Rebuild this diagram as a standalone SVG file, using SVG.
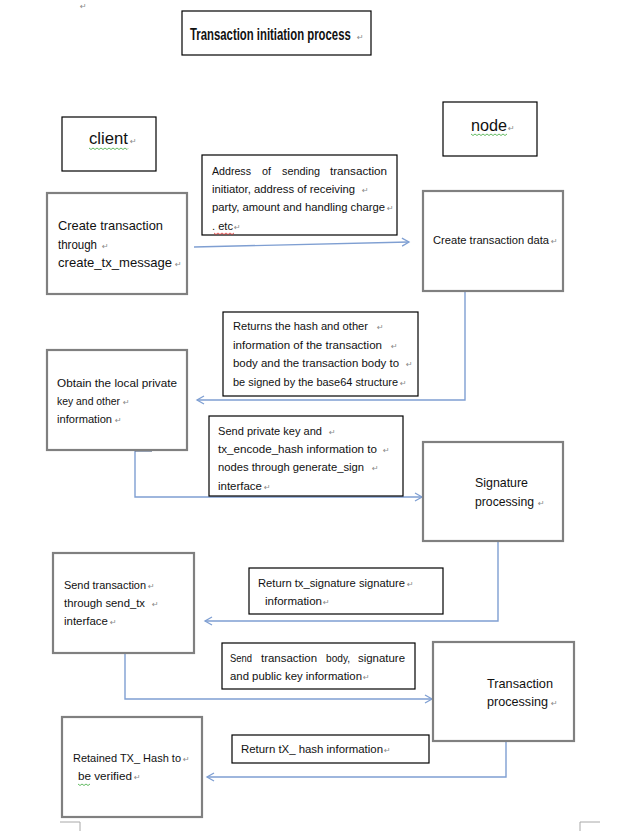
<svg xmlns="http://www.w3.org/2000/svg" width="642" height="831" viewBox="0 0 642 831">
  <style>
    .frame { fill: #fff; stroke: #000; stroke-width: 1.2; }
    .proc { fill: #fff; stroke: #808080; stroke-width: 2.2; }
    .wire { fill: none; stroke: #7f9fd2; stroke-width: 1.4; }
    .t { font-family: "Liberation Sans", Arial, sans-serif; fill: #111; }
    .lbl { font-size: 11px; }
    .box { font-size: 13px; }
    .pm { font-family: "DejaVu Sans", sans-serif; font-size: 8px; fill: #888; font-weight: normal; }
    .wavy-g { fill: none; stroke: #3caa3c; stroke-width: 0.8; }
    .wavy-r { fill: none; stroke: #e03030; stroke-width: 0.8; }
    .crop { fill: none; stroke: #a8a8a8; stroke-width: 1; }
  </style>
  <defs>
    <marker id="arrow" markerWidth="10" markerHeight="10" refX="8" refY="5" orient="auto" markerUnits="userSpaceOnUse">
      <path d="M1,1 L8,5 L1,9" fill="none" stroke="#7f9fd2" stroke-width="1.3"/>
    </marker>
  </defs>

  <rect width="642" height="831" fill="#fff"/>

  <!-- page marks -->
  <text class="pm" x="80" y="9">↵</text>
  <path class="crop" d="M60,822 H80 V831"/>
  <path class="crop" d="M600,822 H580 V831"/>

  <!-- title: bold face narrowed horizontally to a condensed look -->
  <g id="title">
    <rect class="frame" x="182" y="11" width="189" height="44"/>
    <text class="t" transform="translate(190,40) scale(0.71,1)" font-size="16" font-weight="bold">Transaction initiation process</text>
    <text class="pm" x="357" y="40">↵</text>
  </g>

  <!-- lane headers -->
  <g id="client">
    <rect class="frame" x="62" y="117" width="94" height="54"/>
    <text class="t" x="89" y="144" font-size="16" textLength="39" lengthAdjust="spacingAndGlyphs">client</text>
    <text class="pm" x="130" y="144">↵</text>
    <path class="wavy-g" d="M89,148 l2,1.5 l2,-1.5 l2,1.5 l2,-1.5 l2,1.5 l2,-1.5 l2,1.5 l2,-1.5 l2,1.5 l2,-1.5 l2,1.5 l2,-1.5 l2,1.5 l2,-1.5 l2,1.5 l2,-1.5 l2,1.5 l2,-1.5 l2,1.5 l1,-1"/>
  </g>
  <g id="node">
    <rect class="frame" x="443" y="102" width="94" height="54"/>
    <text class="t" x="471" y="131" font-size="16" textLength="36" lengthAdjust="spacingAndGlyphs">node</text>
    <text class="pm" x="508" y="131">↵</text>
    <path class="wavy-g" d="M471,134 l2,1.5 l2,-1.5 l2,1.5 l2,-1.5 l2,1.5 l2,-1.5 l2,1.5 l2,-1.5 l2,1.5 l2,-1.5 l2,1.5 l2,-1.5 l2,1.5 l2,-1.5 l2,1.5 l2,-1.5 l2,1.5 l2,-1.5"/>
  </g>

  <!-- connectors -->
  <g id="connectors">
    <path class="wire" d="M194,247 L409,242" marker-end="url(#arrow)"/>
    <path class="wire" d="M465,291 V400 H197" marker-end="url(#arrow)"/>
    <path class="wire" d="M135,451 V497 H422" marker-end="url(#arrow)"/>
    <path d="M135,451 H152" fill="none" stroke="#6a7a96" stroke-width="1.4"/>
    <path class="wire" d="M498,541 V621 H205" marker-end="url(#arrow)"/>
    <path class="wire" d="M125,653 V699 H432" marker-end="url(#arrow)"/>
    <path class="wire" d="M506,741 V777 H207" marker-end="url(#arrow)"/>
  </g>

  <!-- client side steps -->
  <g id="create-tx">
    <rect class="proc" x="47" y="193" width="140" height="101"/>
    <text class="t box" x="58" y="230" textLength="105" lengthAdjust="spacingAndGlyphs">Create transaction</text>
    <text class="t box" x="58" y="249" textLength="39" lengthAdjust="spacingAndGlyphs">through</text>
    <text class="pm" x="102" y="249">↵</text>
    <text class="t box" x="58" y="267" textLength="114" lengthAdjust="spacingAndGlyphs">create_tx_message</text>
    <text class="pm" x="175" y="267">↵</text>
  </g>

  <g id="obtain-key">
    <rect class="proc" x="47" y="350" width="140" height="100"/>
    <text class="t lbl" x="57" y="387" textLength="120" lengthAdjust="spacingAndGlyphs">Obtain the local private</text>
    <text class="t lbl" x="57" y="405" textLength="63" lengthAdjust="spacingAndGlyphs">key and other</text>
    <text class="pm" x="123" y="405">↵</text>
    <text class="t lbl" x="57" y="423" textLength="55" lengthAdjust="spacingAndGlyphs">information</text>
    <text class="pm" x="115" y="423">↵</text>
  </g>

  <g id="send-tx">
    <rect class="proc" x="53" y="553" width="141" height="100"/>
    <text class="t lbl" x="64" y="589" textLength="82" lengthAdjust="spacingAndGlyphs">Send transaction</text>
    <text class="pm" x="148" y="589">↵</text>
    <text class="t lbl" x="64" y="607" textLength="81" lengthAdjust="spacingAndGlyphs">through send_tx</text>
    <text class="pm" x="152" y="607">↵</text>
    <text class="t lbl" x="64" y="625" textLength="44" lengthAdjust="spacingAndGlyphs">interface</text>
    <text class="pm" x="110" y="625">↵</text>
  </g>

  <g id="retained-hash">
    <rect class="proc" x="62" y="717" width="140" height="100"/>
    <text class="t lbl" x="73" y="762" textLength="108" lengthAdjust="spacingAndGlyphs">Retained TX_ Hash to</text>
    <text class="pm" x="183" y="762">↵</text>
    <text class="t lbl" x="78" y="780" textLength="54" lengthAdjust="spacingAndGlyphs">be verified</text>
    <text class="pm" x="134" y="780">↵</text>
    <path class="wavy-g" d="M78,784 l2,1.5 l2,-1.5 l2,1.5 l2,-1.5 l2,1.5 l2,-1.5"/>
  </g>

  <!-- node side steps -->
  <g id="create-data">
    <rect class="proc" x="423" y="191" width="140" height="100"/>
    <text class="t lbl" x="433" y="244" textLength="116" lengthAdjust="spacingAndGlyphs">Create transaction data</text>
    <text class="pm" x="551" y="244">↵</text>
  </g>

  <g id="signature">
    <rect class="proc" x="423" y="442" width="140" height="99"/>
    <text class="t box" x="475" y="487" textLength="53" lengthAdjust="spacingAndGlyphs">Signature</text>
    <text class="t box" x="475" y="506" textLength="59" lengthAdjust="spacingAndGlyphs">processing</text>
    <text class="pm" x="538" y="506">↵</text>
  </g>

  <g id="tx-processing">
    <rect class="proc" x="433" y="642" width="141" height="99"/>
    <text class="t box" x="487" y="688" textLength="66" lengthAdjust="spacingAndGlyphs">Transaction</text>
    <text class="t box" x="487" y="706" textLength="61" lengthAdjust="spacingAndGlyphs">processing</text>
    <text class="pm" x="551" y="706">↵</text>
  </g>

  <!-- connector labels -->
  <g id="label-address">
    <rect class="frame" x="202" y="155" width="195" height="80"/>
    <text class="t lbl" y="175">
      <tspan x="212" textLength="39" lengthAdjust="spacingAndGlyphs">Address</tspan>
      <tspan x="262" textLength="9" lengthAdjust="spacingAndGlyphs">of</tspan>
      <tspan x="282" textLength="38" lengthAdjust="spacingAndGlyphs">sending</tspan>
      <tspan x="330" textLength="57" lengthAdjust="spacingAndGlyphs">transaction</tspan>
    </text>
    <text class="t lbl" x="212" y="193" textLength="143" lengthAdjust="spacingAndGlyphs">initiator, address of receiving</text>
    <text class="pm" x="362" y="193">↵</text>
    <text class="t lbl" x="212" y="211" textLength="173" lengthAdjust="spacingAndGlyphs">party, amount and handling charge</text>
    <text class="pm" x="387" y="211">↵</text>
    <text class="t lbl" x="212" y="230" textLength="21" lengthAdjust="spacingAndGlyphs">. etc</text>
    <text class="pm" x="234" y="230">↵</text>
    <path class="wavy-r" d="M214,233 l2,1.5 l2,-1.5 l2,1.5 l2,-1.5 l2,1.5 l2,-1.5 l2,1.5 l2,-1.5 l2,1.5 l2,-1.5"/>
  </g>

  <g id="label-returns">
    <rect class="frame" x="223" y="312" width="195" height="84"/>
    <text class="t lbl" x="233" y="330" textLength="135" lengthAdjust="spacingAndGlyphs">Returns the hash and other</text>
    <text class="pm" x="377" y="330">↵</text>
    <text class="t lbl" x="233" y="349" textLength="149" lengthAdjust="spacingAndGlyphs">information of the transaction</text>
    <text class="pm" x="391" y="349">↵</text>
    <text class="t lbl" x="233" y="367" textLength="166" lengthAdjust="spacingAndGlyphs">body and the transaction body to</text>
    <text class="pm" x="406" y="367">↵</text>
    <text class="t lbl" x="233" y="386" textLength="165" lengthAdjust="spacingAndGlyphs">be signed by the base64 structure</text>
    <text class="pm" x="400" y="386">↵</text>
  </g>

  <g id="label-private-key">
    <rect class="frame" x="209" y="416" width="194" height="80"/>
    <text class="t lbl" x="218" y="435" textLength="104" lengthAdjust="spacingAndGlyphs">Send private key and</text>
    <text class="pm" x="329" y="435">↵</text>
    <text class="t lbl" x="218" y="453" textLength="159" lengthAdjust="spacingAndGlyphs">tx_encode_hash information to</text>
    <text class="pm" x="383" y="453">↵</text>
    <text class="t lbl" x="218" y="471" textLength="146" lengthAdjust="spacingAndGlyphs">nodes through generate_sign</text>
    <text class="pm" x="372" y="471">↵</text>
    <text class="t lbl" x="218" y="490" textLength="44" lengthAdjust="spacingAndGlyphs">interface</text>
    <text class="pm" x="264" y="490">↵</text>
  </g>

  <g id="label-signature">
    <rect class="frame" x="249" y="568" width="194" height="46"/>
    <text class="t lbl" x="258" y="587" textLength="147" lengthAdjust="spacingAndGlyphs">Return tx_signature signature</text>
    <text class="pm" x="407" y="587">↵</text>
    <text class="t lbl" x="265" y="605" textLength="57" lengthAdjust="spacingAndGlyphs">information</text>
    <text class="pm" x="323" y="605">↵</text>
  </g>

  <g id="label-body">
    <rect class="frame" x="222" y="643" width="193" height="46"/>
    <text class="t lbl" y="662">
      <tspan x="230" textLength="22" lengthAdjust="spacingAndGlyphs">Send</tspan>
      <tspan x="261" textLength="56" lengthAdjust="spacingAndGlyphs">transaction</tspan>
      <tspan x="326" textLength="24" lengthAdjust="spacingAndGlyphs">body,</tspan>
      <tspan x="358" textLength="47" lengthAdjust="spacingAndGlyphs">signature</tspan>
    </text>
    <text class="t lbl" x="230" y="680" textLength="132" lengthAdjust="spacingAndGlyphs">and public key information</text>
    <text class="pm" x="363" y="680">↵</text>
  </g>

  <g id="label-hash">
    <rect class="frame" x="232" y="735" width="197" height="28"/>
    <text class="t lbl" x="241" y="753" textLength="142" lengthAdjust="spacingAndGlyphs">Return tX_ hash information</text>
    <text class="pm" x="384" y="753">↵</text>
  </g>
</svg>
